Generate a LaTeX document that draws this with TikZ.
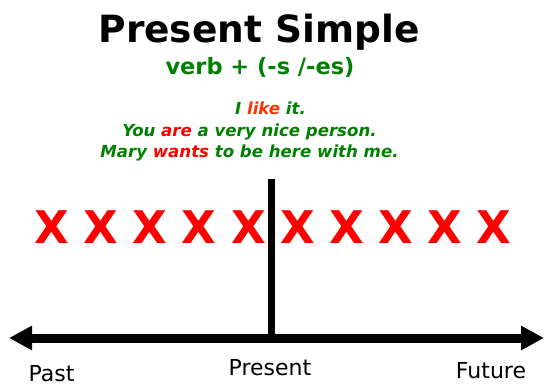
\documentclass[tikz,border=0pt]{standalone}
\usepackage{fontspec}
\setmainfont{DejaVu Sans}
\usetikzlibrary{positioning, arrows.meta}
\definecolor{verbgreen}{RGB}{0,128,0}
\definecolor{verbred}{RGB}{255,0,0}
\definecolor{likeorange}{RGB}{255,51,0}
\tikzset{
  heading/.style  = {anchor=base, inner sep=0pt, font=\fontsize{37.5}{40}\selectfont\bfseries},
  rule/.style     = {anchor=base, inner sep=0pt, text=verbgreen, font=\fontsize{22.5}{26}\selectfont\bfseries},
  sentence/.style = {anchor=base, inner sep=0pt, text=verbgreen, font=\fontsize{16.6}{19}\selectfont\bfseries\itshape},
  cross/.style    = {anchor=base, inner sep=0pt, text=verbred, font=\fontsize{45}{48}\selectfont\bfseries},
  when/.style     = {anchor=base, inner sep=0pt, font=\fontsize{22}{26}\selectfont},
  axis/.style     = {line width=9pt, {Triangle[length=23pt, width=23pt]}-{Triangle[length=23pt, width=23pt]}},
  now/.style      = {line width=7.5pt}
}

\begin{document}
\begin{tikzpicture}[x=1pt, y=-1pt]
  \useasboundingbox (0,0) rectangle (545,387);
  \node[heading]  (title) at (259,43)  {Present Simple};
  \node[rule]     (form)  at (260,75)  {verb + (-s /-es)};
  \node[sentence] (ex1)   at (270.5,115) {I \textcolor{likeorange}{like} it.};
  \node[sentence] (ex2)   at (249.5,137) {You \textcolor{verbred}{are} a very nice person.};
  \node[sentence] (ex3)   at (249.5,158) {Mary \textcolor{verbred}{wants} to be here with me.};
  % times marked on the line
  \foreach \i in {0,...,9}
    \node[cross] (x\i) at ({52+49.1*\i},243) {X};
  % time line
  \coordinate (past)   at (9,338);
  \coordinate (future) at (544,338);
  \coordinate (top)    at (271.5,179);
  \coordinate (mid)    at (271.5,338);
  \draw[now]  (top) -- (mid);
  \draw[axis] (past) -- (future);
  \node[when] (lpast)    at (51.5,381) {Past};
  \node[when] (lpresent) at (270,375)  {Present};
  \node[when] (lfuture)  at (491,378)  {Future};
\end{tikzpicture}
\end{document}
